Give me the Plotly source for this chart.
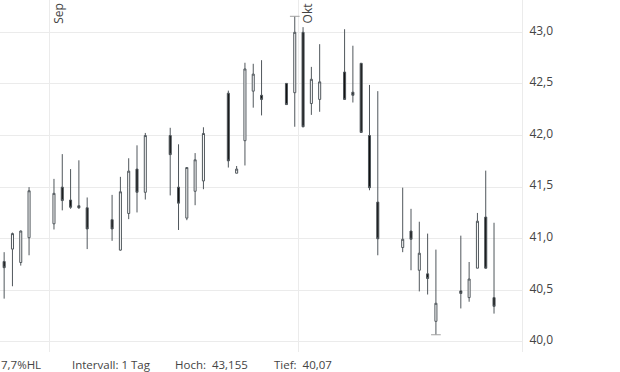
import plotly.graph_objects as go
import pandas as pd

dates = ["2025-08-26", "2025-08-27", "2025-08-28", "2025-08-29",
         "2025-09-01", "2025-09-02", "2025-09-03", "2025-09-04", "2025-09-05",
         "2025-09-08", "2025-09-09", "2025-09-10", "2025-09-11", "2025-09-12",
         "2025-09-15", "2025-09-16", "2025-09-17", "2025-09-18", "2025-09-19",
         "2025-09-22", "2025-09-23", "2025-09-24", "2025-09-25", "2025-09-26",
         "2025-09-29", "2025-09-30", "2025-10-01", "2025-10-02", "2025-10-03",
         "2025-10-06", "2025-10-07", "2025-10-08", "2025-10-09", "2025-10-10",
         "2025-10-13", "2025-10-14", "2025-10-15", "2025-10-16", "2025-10-17",
         "2025-10-20", "2025-10-21", "2025-10-22", "2025-10-23", "2025-10-24"]

open_ = [40.78, 40.90, 40.77, 41.01,
         41.145, 41.50, 41.375, 41.32, 41.30,
         41.185, 40.89, 41.245, 41.675, 41.45,
         42.00, 41.50, 41.20, 41.46, 41.56,
         42.41, 41.635, 41.95, 42.43, 42.39,
         42.505, 42.415, 43.00, 42.31, 42.35,
         42.615, 42.42, 42.70, 42.00, 41.355,
         40.915, 41.075, 40.695, 40.66, 40.20,
         40.495, 40.43, 40.715, 41.21, 40.43]

high = [40.87, 41.06, 41.08, 41.50,
        41.58, 41.82, 41.675, 41.76, 41.40,
        41.425, 41.60, 41.78, 41.905, 42.025,
        42.075, 41.915, 41.69, 41.83, 42.08,
        42.435, 41.705, 42.705, 42.695, 42.73,
        42.505, 43.155, 43.05, 42.665, 42.885,
        43.03, 42.87, 42.70, 42.49, 42.43,
        41.495, 41.29, 41.165, 41.05, 40.895,
        41.03, 40.775, 41.25, 41.66, 41.155]

low = [40.42, 40.54, 40.74, 40.84,
       41.09, 41.275, 41.29, 41.29, 40.90,
       40.98, 40.885, 41.19, 41.255, 41.38,
       41.42, 41.085, 41.18, 41.325, 41.48,
       41.69, 41.635, 41.71, 42.27, 42.195,
       42.30, 42.085, 42.08, 42.20, 42.23,
       42.35, 42.32, 42.03, 41.47, 40.84,
       40.87, 40.695, 40.49, 40.46, 40.07,
       40.325, 40.39, 40.715, 40.71, 40.275]

close = [40.72, 41.05, 41.075, 41.465,
         41.44, 41.37, 41.305, 41.30, 41.095,
         41.095, 41.455, 41.655, 41.45, 42.00,
         41.815, 41.345, 41.69, 41.765, 42.02,
         41.755, 41.675, 42.645, 42.595, 42.35,
         42.30, 43.00, 42.085, 42.545, 42.52,
         42.35, 42.39, 42.03, 41.495, 41.00,
         40.995, 40.995, 40.86, 40.615, 40.375,
         40.47, 40.61, 41.17, 40.715, 40.345]

y_ticks = [40.0, 40.5, 41.0, 41.5, 42.0, 42.5, 43.0]
month_ticks = ["2025-09-01", "2025-10-01"]
month_labels = ["Sep", "Okt"]
interval_label = "Intervall: 1 Tag"

WICK = "#50575c"
GRID = "#ebebeb"
TXT = "#444444"
FONT = "Open Sans"

df = pd.DataFrame({"date": pd.to_datetime(dates), "open": open_, "high": high,
                   "low": low, "close": close})
df["mid"] = df["date"] + pd.Timedelta(hours=12)

fig = go.Figure()
fig.add_trace(go.Candlestick(
    x=df["mid"], open=df["open"], high=df["high"], low=df["low"], close=df["close"],
    increasing=dict(line=dict(color=WICK, width=1), fillcolor="#ffffff"),
    decreasing=dict(line=dict(color=WICK, width=1), fillcolor="#111111"),
    whiskerwidth=0, showlegend=False, hoverinfo="skip",
))

# high / low markers
hi_idx = df["high"].idxmax()
lo_idx = df["low"].idxmin()
half = pd.Timedelta(hours=14)
for idx, col in ((hi_idx, "high"), (lo_idx, "low")):
    m = df.loc[idx, "mid"]
    v = df.loc[idx, col]
    fig.add_trace(go.Scatter(x=[m - half, m + half], y=[v, v], mode="lines",
                             line=dict(color="#a0a0a0", width=1),
                             showlegend=False, hoverinfo="skip"))

hi = df["high"].max()
lo = df["low"].min()
pct = (hi - lo) / lo * 100

def de(v, nd):
    return f"{v:.{nd}f}".replace(".", ",")

annotations = []
for t, lab in zip(month_ticks, month_labels):
    annotations.append(dict(x=t, xref="x", y=1, yref="paper", text=lab, textangle=-90,
                            xanchor="left", yanchor="top", xshift=-2, yshift=-1,
                            showarrow=False, font=dict(family=FONT, size=12, color=TXT)))

W = 522.0
bottom_texts = [(0, f"{de(pct, 1)}%HL"), (71, interval_label),
                (174, f"Hoch:\u00a0 {de(hi, 3)}"), (273, f"Tief:\u00a0 {de(lo, 2)}")]
for px, txt in bottom_texts:
    annotations.append(dict(x=px / W, xref="paper", y=0, yref="paper", text=txt,
                            xanchor="left", yanchor="middle", yshift=-12, xshift=-1,
                            showarrow=False, font=dict(family=FONT, size=11.5, color=TXT)))

fig.update_layout(
    width=620, height=372,
    margin=dict(l=0, r=98, t=0, b=20),
    paper_bgcolor="white", plot_bgcolor="white",
    separators=",.",
    boxgap=0.65,
    font=dict(family=FONT, size=12, color=TXT),
    annotations=annotations,
    xaxis=dict(type="date", range=["2025-08-26 00:00", "2025-10-27 20:50"],
               tickvals=month_ticks, showticklabels=False, showgrid=True,
               gridcolor=GRID, gridwidth=1, zeroline=False,
               showline=False,
               rangeslider=dict(visible=False), ticks=""),
    yaxis=dict(side="right", range=[39.903, 43.313], tickvals=y_ticks,
               tickformat=".1f", showgrid=True, gridcolor=GRID, gridwidth=1,
               zeroline=False, showline=True, linecolor=GRID, linewidth=1,
               ticks="", ticklabelstandoff=4, ticklabelshift=-2,
               tickfont=dict(family=FONT, size=12, color=TXT)),
)

fig.write_html("out.html")
